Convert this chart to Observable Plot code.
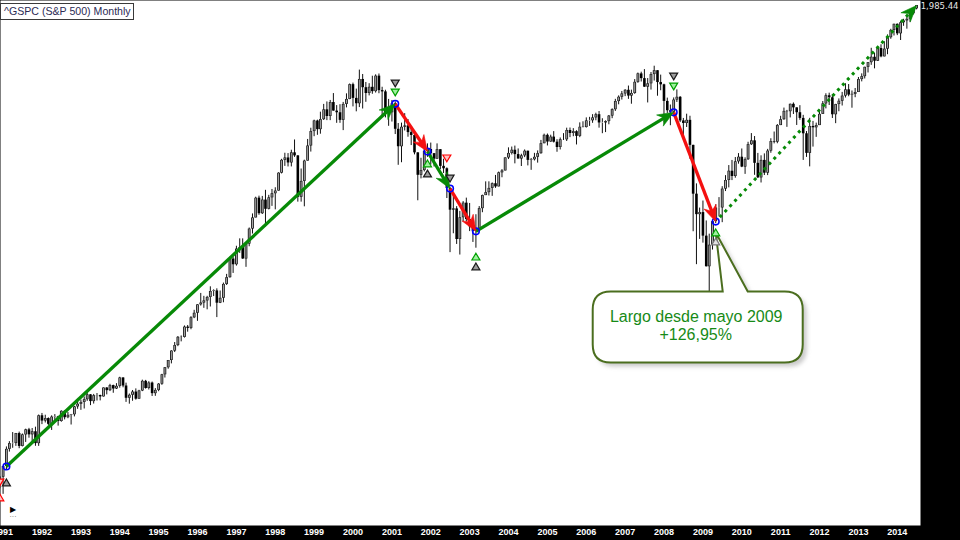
<!DOCTYPE html>
<html><head><meta charset="utf-8">
<script src="https://cdn.jsdelivr.net/npm/d3@7"></script>
<script src="https://cdn.jsdelivr.net/npm/@observablehq/plot@0.6"></script>
<style>
html,body{margin:0;padding:0;background:#000;}
#wrap{position:relative;width:960px;height:540px;overflow:hidden;}
#title{position:absolute;left:0;top:3px;width:129px;height:15px;border:1.5px solid #3a3a3a;background:#fff;
 font:10.6px 'Liberation Sans',Arial,sans-serif;color:#2b2b55;line-height:15px;padding-left:3px;white-space:nowrap;}
</style></head><body><div id="wrap"></div>
<script>
// ---- Monthly OHLC, Dec 1990 .. Jul 2014 ----
const opens = [322.2,
330.2,343.9,367.1,375.2,375.3,389.8,371.2,387.8,395.4,387.9,392.5,375.2,
417.1,408.8,412.7,403.7,415.0,415.4,408.1,424.2,414.0,417.8,418.7,431.4,
435.7,438.8,443.4,451.7,440.2,450.2,450.5,448.1,463.6,458.9,467.8,461.8,
466.5,481.6,467.1,445.8,450.9,456.5,444.3,458.3,475.5,462.7,472.4,453.7,
459.3,470.4,487.4,500.7,514.7,533.4,544.8,562.1,561.9,584.4,581.5,605.4,
615.9,636.0,640.4,645.5,654.2,669.1,670.6,640.0,652.0,687.3,705.3,757.0,
740.7,786.2,790.8,757.1,801.3,848.3,885.1,954.3,899.5,947.3,914.6,955.4,
970.4,980.3,1049.3,1101.8,1111.8,1090.8,1133.8,1120.7,957.3,1017.0,1098.7,1163.6,
1229.2,1279.6,1238.3,1286.4,1335.2,1301.8,1372.7,1328.7,1320.4,1282.7,1362.9,1388.9,
1469.3,1394.5,1366.4,1498.6,1452.4,1420.6,1454.6,1430.8,1517.7,1436.5,1429.4,1315.0,
1320.3,1366.0,1239.9,1160.3,1249.5,1255.8,1224.4,1211.2,1133.6,1040.9,1059.8,1139.5,
1148.1,1130.2,1106.7,1147.4,1076.9,1067.1,989.8,911.6,916.1,815.3,885.8,936.3,
879.8,855.7,841.2,848.2,916.9,963.6,974.5,990.3,1008.0,996.0,1050.7,1058.2,
1111.9,1131.1,1144.9,1126.2,1107.3,1120.7,1140.8,1101.7,1104.2,1114.6,1130.2,1173.8,
1211.9,1181.3,1203.6,1180.6,1156.9,1191.5,1191.3,1234.2,1220.3,1228.8,1207.0,1249.5,
1248.3,1280.1,1280.7,1294.9,1310.6,1270.1,1270.2,1276.7,1303.8,1335.9,1377.9,1400.6,
1418.3,1438.2,1406.8,1420.9,1482.4,1530.6,1503.4,1455.3,1474.0,1526.8,1549.4,1481.1,
1468.4,1378.6,1330.6,1322.7,1385.6,1400.4,1280.0,1267.4,1282.8,1166.4,968.8,896.2,
903.3,825.9,735.1,797.9,872.8,919.1,919.3,987.5,1020.6,1057.1,1036.2,1095.6,
1115.1,1073.9,1104.5,1169.4,1186.7,1089.4,1030.7,1101.6,1049.3,1141.2,1183.3,1180.6,
1257.6,1286.1,1327.2,1325.8,1363.6,1345.2,1320.6,1292.3,1218.9,1131.4,1253.3,1247.0,
1257.6,1312.4,1365.7,1408.5,1397.9,1310.3,1362.2,1379.3,1406.6,1440.7,1412.2,1416.2,
1426.2,1498.1,1514.7,1569.2,1597.6,1630.7,1606.3,1685.7,1633.0,1681.6,1756.5,1805.8,
1848.4,1782.6,1859.5,1872.3,1884.0,1923.6,1960.2];
const highs = [330.9,
344.0,370.5,378.0,391.3,390.0,392.0,389.2,396.4,397.6,397.4,399.4,418.3,
420.8,418.0,413.8,417.0,419.0,416.2,425.1,425.1,422.4,419.2,432.3,441.3,
442.8,448.1,456.7,452.0,452.4,453.9,451.1,463.6,464.2,470.1,468.6,471.3,
482.9,482.1,472.2,453.1,459.2,462.0,459.5,477.6,477.2,474.8,474.2,462.5,
471.4,488.3,501.0,514.7,534.2,551.1,563.8,565.0,587.0,588.0,608.0,622.9,
636.2,664.2,656.9,657.0,681.1,673.3,675.9,670.4,690.9,714.1,762.1,761.8,
794.7,817.4,817.4,805.6,851.9,898.7,957.7,961.6,960.6,983.1,964.5,986.3,
992.7,1051.0,1106.1,1132.0,1130.5,1145.0,1190.6,1121.5,1066.1,1102.5,1192.9,1244.9,
1283.6,1283.6,1323.2,1363.0,1375.9,1383.6,1420.3,1356.9,1361.6,1373.3,1418.8,1473.1,
1478.0,1444.6,1552.9,1527.2,1481.5,1474.6,1517.3,1525.2,1530.1,1454.8,1438.5,1389.1,
1383.4,1376.4,1267.4,1269.3,1315.9,1286.6,1239.8,1226.3,1134.0,1110.6,1163.4,1173.0,
1176.6,1130.2,1173.0,1147.8,1106.6,1070.7,994.5,965.0,924.0,907.4,941.8,954.3,
935.1,864.6,895.9,924.2,965.4,1015.3,1015.4,1011.0,1040.3,1053.8,1063.7,1112.6,
1155.4,1158.9,1163.2,1150.6,1127.7,1146.3,1140.8,1109.7,1131.5,1142.1,1188.5,1217.3,
1217.8,1212.4,1229.1,1191.9,1199.6,1219.6,1245.2,1245.9,1243.1,1233.3,1270.6,1275.8,
1294.9,1297.6,1310.9,1318.2,1326.7,1290.7,1280.4,1306.7,1340.3,1389.5,1407.9,1431.8,
1441.6,1461.6,1438.9,1498.0,1535.6,1540.6,1555.9,1503.9,1538.7,1576.1,1549.4,1523.6,
1471.8,1396.0,1359.7,1397.0,1440.2,1404.1,1292.2,1313.2,1303.0,1167.0,1007.5,918.9,
943.9,875.0,832.1,877.6,930.2,956.2,996.7,1039.5,1080.2,1101.4,1113.7,1130.4,
1150.5,1112.4,1180.2,1219.8,1206.2,1131.2,1120.9,1129.2,1148.7,1196.1,1227.1,1262.6,
1302.7,1344.1,1332.3,1364.6,1370.6,1345.2,1356.5,1307.4,1229.3,1292.7,1277.6,1269.4,
1333.5,1378.0,1419.2,1422.4,1415.3,1363.5,1391.7,1426.7,1474.5,1470.0,1434.3,1448.0,
1509.9,1530.9,1570.3,1597.6,1687.2,1654.2,1698.8,1709.7,1729.9,1775.2,1813.6,1849.4,
1850.8,1867.9,1884.0,1897.3,1924.0,1968.2,1985.6];
const lows = [316.0,
309.4,340.0,363.3,368.6,371.3,368.0,370.5,376.9,383.0,377.9,371.4,371.3,
403.3,405.8,401.6,394.5,407.4,401.0,407.0,410.6,412.5,402.7,415.3,427.5,
425.8,428.0,440.6,433.5,436.1,441.2,441.4,447.9,451.6,457.3,454.4,460.9,
463.3,463.9,438.9,435.9,440.8,442.6,444.3,457.2,461.6,460.1,448.9,449.1,
457.1,468.3,481.5,497.9,508.1,530.5,542.5,552.5,560.5,573.2,578.5,603.5,
597.3,633.0,627.6,624.1,630.8,656.4,605.9,639.0,641.0,684.6,703.8,716.7,
737.0,773.4,756.1,733.5,793.2,832.5,885.1,894.0,896.7,855.3,912.5,924.9,
912.8,980.3,1046.3,1076.7,1074.4,1074.6,1114.3,939.9,939.9,923.3,1098.7,1137.0,
1205.5,1211.9,1217.0,1282.0,1281.4,1281.4,1328.3,1268.4,1268.4,1233.7,1345.1,1387.4,
1350.1,1325.1,1346.6,1339.4,1373.9,1407.8,1416.5,1423.1,1419.4,1305.8,1294.9,1254.1,
1274.6,1215.4,1081.2,1091.9,1232.0,1203.0,1165.5,1124.9,944.8,1026.8,1054.3,1114.5,
1081.7,1074.4,1106.7,1063.5,1048.0,952.9,775.7,833.4,800.2,768.6,872.0,872.0,
840.3,806.3,788.9,847.9,902.8,963.6,962.1,960.8,990.4,996.0,1031.2,1058.2,
1105.1,1124.4,1087.2,1107.2,1076.3,1113.3,1078.8,1060.7,1099.2,1090.2,1127.6,1173.4,
1163.8,1180.1,1176.9,1136.2,1146.2,1188.3,1183.6,1201.1,1205.4,1168.2,1201.1,1246.6,
1245.7,1253.6,1268.4,1280.7,1245.3,1219.3,1224.5,1261.3,1290.9,1327.1,1360.9,1385.9,
1403.9,1389.4,1363.9,1416.4,1476.7,1484.2,1454.3,1370.6,1439.3,1489.6,1406.1,1435.7,
1270.1,1316.8,1256.9,1312.0,1373.1,1272.0,1200.4,1248.5,1106.4,839.8,741.0,815.7,
804.2,734.5,666.8,783.3,866.1,888.9,869.3,978.5,992.3,1020.2,1029.4,1085.9,
1071.6,1044.5,1101.4,1166.0,1040.8,1028.3,1010.9,1040.0,1039.7,1131.9,1173.0,1173.6,
1257.6,1282.9,1249.1,1294.7,1311.8,1258.1,1282.9,1101.5,1114.2,1074.8,1158.7,1202.4,
1257.6,1312.4,1340.0,1357.4,1291.9,1266.7,1325.4,1354.7,1396.6,1403.3,1343.4,1398.1,
1426.2,1485.0,1501.5,1536.0,1581.3,1560.3,1604.6,1627.5,1633.0,1646.5,1746.2,1767.9,
1770.5,1737.9,1834.4,1814.4,1859.8,1915.0,1952.9];
const closes = [330.2,
343.9,367.1,375.2,375.3,389.8,371.2,387.8,395.4,387.9,392.5,375.2,417.1,
408.8,412.7,403.7,415.0,415.4,408.1,424.2,414.0,417.8,418.7,431.4,435.7,
438.8,443.4,451.7,440.2,450.2,450.5,448.1,463.6,458.9,467.8,461.8,466.5,
481.6,467.1,445.8,450.9,456.5,444.3,458.3,475.5,462.7,472.4,453.7,459.3,
470.4,487.4,500.7,514.7,533.4,544.8,562.1,561.9,584.4,581.5,605.4,615.9,
636.0,640.4,645.5,654.2,669.1,670.6,640.0,652.0,687.3,705.3,757.0,740.7,
786.2,790.8,757.1,801.3,848.3,885.1,954.3,899.5,947.3,914.6,955.4,970.4,
980.3,1049.3,1101.8,1111.8,1090.8,1133.8,1120.7,957.3,1017.0,1098.7,1163.6,1229.2,
1279.6,1238.3,1286.4,1335.2,1301.8,1372.7,1328.7,1320.4,1282.7,1362.9,1388.9,1469.3,
1394.5,1366.4,1498.6,1452.4,1420.6,1454.6,1430.8,1517.7,1436.5,1429.4,1315.0,1320.3,
1366.0,1239.9,1160.3,1249.5,1255.8,1224.4,1211.2,1133.6,1040.9,1059.8,1139.5,1148.1,
1130.2,1106.7,1147.4,1076.9,1067.1,989.8,911.6,916.1,815.3,885.8,936.3,879.8,
855.7,841.2,848.2,916.9,963.6,974.5,990.3,1008.0,996.0,1050.7,1058.2,1111.9,
1131.1,1144.9,1126.2,1107.3,1120.7,1140.8,1101.7,1104.2,1114.6,1130.2,1173.8,1211.9,
1181.3,1203.6,1180.6,1156.9,1191.5,1191.3,1234.2,1220.3,1228.8,1207.0,1249.5,1248.3,
1280.1,1280.7,1294.9,1310.6,1270.1,1270.2,1276.7,1303.8,1335.9,1377.9,1400.6,1418.3,
1438.2,1406.8,1420.9,1482.4,1530.6,1503.4,1455.3,1474.0,1526.8,1549.4,1481.1,1468.4,
1378.6,1330.6,1322.7,1385.6,1400.4,1280.0,1267.4,1282.8,1166.4,968.8,896.2,903.3,
825.9,735.1,797.9,872.8,919.1,919.3,987.5,1020.6,1057.1,1036.2,1095.6,1115.1,
1073.9,1104.5,1169.4,1186.7,1089.4,1030.7,1101.6,1049.3,1141.2,1183.3,1180.6,1257.6,
1286.1,1327.2,1325.8,1363.6,1345.2,1320.6,1292.3,1218.9,1131.4,1253.3,1247.0,1257.6,
1312.4,1365.7,1408.5,1397.9,1310.3,1362.2,1379.3,1406.6,1440.7,1412.2,1416.2,1426.2,
1498.1,1514.7,1569.2,1597.6,1630.7,1606.3,1685.7,1633.0,1681.6,1756.5,1805.8,1848.4,
1782.6,1859.5,1872.3,1884.0,1923.6,1960.2,1985.4];
const firstMonth = "1990-12";

// ---- Trade legs (entry/exit at bar opens) ----
const tradeDates  = ["1991-02","2001-02","2001-12","2002-07","2003-03","2008-04","2009-05","2014-07"];
const tradePrices = [343.9, 1366.0, 1139.5, 989.8, 841.2, 1322.7, 872.8, 1985.4];
const legSides    = ["long","short","long","short","long","short","long"];
const legOpenTrade= [false,false,false,false,false,false,true];

// ---- Signal triangles ----
const markerDates  = ["1990-12","1990-12","1991-02","2001-02","2001-02","2001-12","2001-12","2002-06","2002-07","2003-03","2003-03","2008-04","2008-04","2009-05","2009-05"];
const markerPrices = [323.7, 305.8, 323.7, 1476, 1426, 1089, 1048, 1110, 1028, 764, 736, 1516, 1459, 837.7, 809];
const markerKinds  = ["red-down","red-up","dark-up","dark-down","green-down","green-up","dark-up","red-down","dark-down","green-up","dark-up","dark-down","green-down","green-up","grey-up"];

// ---- Callout ----
const calloutDate = "2009-05";
const calloutPrice = 837.7;
const calloutLines = ["Largo desde mayo 2009", "+126,95%"];

const yearTicks = [1991,1992,1993,1994,1995,1996,1997,1998,1999,2000,2001,2002,2003,2004,2005,2006,2007,2008,2009,2010,2011,2012,2013,2014];
const lastLabel = "1,985.44";
const titleText = "^GSPC (S&P 500) Monthly";

// ------------------------------------------------------------
const parseMonth = d3.utcParse("%Y-%m");
const d0 = parseMonth(firstMonth);
const candles = closes.map((c, i) => ({
  date: new Date(Date.UTC(d0.getUTCFullYear(), d0.getUTCMonth() + i, 1)),
  open: opens[i], high: highs[i], low: lows[i], close: c
}));
const upC = candles.filter(d => d.close >= d.open);
const dnC = candles.filter(d => d.close < d.open);

const W = 960, H = 540, MR = 40, MB = 15;
const xDomain = [new Date(Date.UTC(1990, 11, 7, 12)), new Date(Date.UTC(2014, 7, 7))];
const yDomain = [274.8, 2023.5];
const sx = d3.scaleUtc(xDomain, [0, W - MR]);
const sy = d3.scaleLog(yDomain, [H - MB, 0]);

const GREEN = "#078a07", RED = "#f41010", BLUE = "#0000ff";
const legs = legSides.map((s, i) => ({
  x1: parseMonth(tradeDates[i]), y1: tradePrices[i],
  x2: parseMonth(tradeDates[i + 1]), y2: tradePrices[i + 1],
  color: s === "long" ? GREEN : RED, open: legOpenTrade[i]
}));
const circles = tradeDates.slice(0, -1).map((d, i) => ({date: parseMonth(d), price: tradePrices[i]}));
const markers = markerDates.map((d, i) => ({date: parseMonth(d), price: markerPrices[i], kind: markerKinds[i]}));
const callout = {date: parseMonth(calloutDate), price: calloutPrice};

function headSymbol(angle) {
  const c = Math.cos(angle), s = Math.sin(angle);
  const pts = [[0, 0], [-16, -6.5], [-11, 0], [-16, 6.5]];
  return {draw(ctx) {
    pts.forEach(([px, py], i) => {
      const X = px * c - py * s, Y = px * s + py * c;
      i ? ctx.lineTo(X, Y) : ctx.moveTo(X, Y);
    });
    ctx.closePath();
  }};
}
function triSymbol(up) {
  return {draw(ctx) {
    const w = 4, h = 3.4;
    if (up) { ctx.moveTo(0, -h); ctx.lineTo(w, h); ctx.lineTo(-w, h); }
    else { ctx.moveTo(0, h); ctx.lineTo(w, -h); ctx.lineTo(-w, -h); }
    ctx.closePath();
  }};
}
const bubbleSymbol = {draw(ctx) {
  const L = -123, R = 87, T = 59, B = 130, r = 18;
  ctx.moveTo(L + r, T); ctx.lineTo(7, T); ctx.lineTo(0, 0); ctx.lineTo(32, T); ctx.lineTo(R - r, T);
  ctx.quadraticCurveTo(R, T, R, T + r); ctx.lineTo(R, B - r);
  ctx.quadraticCurveTo(R, B, R - r, B); ctx.lineTo(L + r, B);
  ctx.quadraticCurveTo(L, B, L, B - r); ctx.lineTo(L, T + r);
  ctx.quadraticCurveTo(L, T, L + r, T); ctx.closePath();
}};
const markerStyles = {
  red:   {stroke: "#ff0000", fill: "#ffc4c4"},
  green: {stroke: "#00a000", fill: "#9ff09f"},
  dark:  {stroke: "#1a1a1a", fill: "#9c9c9c"},
  grey:  {stroke: "#777777", fill: "#e2e2e2"}
};

const marks = [
  Plot.frame({fill: "white"}),
  // candles
  Plot.ruleX(candles, {x: "date", y1: "low", y2: "high", stroke: "#111", strokeWidth: 1}),
  Plot.ruleX(dnC, {x: "date", y1: "open", y2: "close", stroke: "#000", strokeWidth: 2.6}),
  Plot.ruleX(upC, {x: "date", y1: "close", y2: "open", stroke: "#1a1a1a", strokeWidth: 2.8}),
  Plot.ruleX(upC, {x: "date", y1: "close", y2: "open", stroke: "#a9a9a9", strokeWidth: 1, insetTop: 0.6, insetBottom: 0.6}),
];
// trade shafts
for (const col of [GREEN, RED]) {
  marks.push(Plot.arrow(legs.filter(d => d.color === col && !d.open), {
    x1: "x1", y1: "y1", x2: "x2", y2: "y2", stroke: col, strokeWidth: 3.3,
    headLength: 0, insetEnd: 9, strokeLinecap: "butt"
  }));
}
marks.push(Plot.arrow(legs.filter(d => d.open), {
  x1: "x1", y1: "y1", x2: "x2", y2: "y2", stroke: GREEN, strokeWidth: 3,
  headLength: 0, insetEnd: 9, insetStart: 6, strokeLinecap: "butt", strokeDasharray: "3,4.2"
}));
// callout bubble
marks.push(
  Plot.dot([callout], {x: "date", y: "price", symbol: bubbleSymbol, fill: "#8a8a8a", fillOpacity: 0.45, stroke: "none", dx: 4, dy: 4, imageFilter: "blur(2px)"}),
  Plot.dot([callout], {x: "date", y: "price", symbol: bubbleSymbol, fill: "white", stroke: "#4b6e1f", strokeWidth: 2}),
  Plot.text([callout], {x: "date", y: "price", text: () => calloutLines[0], dx: -19.5, dy: 84.5, fontSize: 16, fill: "#178a17", fontWeight: "normal", fontFamily: "'Liberation Sans', Arial, sans-serif"}),
  Plot.text([callout], {x: "date", y: "price", text: () => calloutLines[1], dx: -20, dy: 102, fontSize: 16, fill: "#178a17", fontWeight: "normal", fontFamily: "'Liberation Sans', Arial, sans-serif"})
);
// entry/exit circles
marks.push(Plot.dot(circles, {x: "date", y: "price", r: 3.3, stroke: BLUE, strokeWidth: 1.6, fill: "none"}));
// arrow heads
for (const leg of legs) {
  const ang = Math.atan2(sy(leg.y2) - sy(leg.y1), sx(leg.x2) - sx(leg.x1));
  marks.push(Plot.dot([leg], {x: "x2", y: "y2", symbol: headSymbol(ang), fill: leg.color, stroke: leg.color, strokeWidth: 0.6, r: 6}));
}
// signal triangles
for (const colour of Object.keys(markerStyles)) {
  for (const dir of ["up", "down"]) {
    const sub = markers.filter(d => d.kind === colour + "-" + dir);
    if (sub.length) marks.push(Plot.dot(sub, {x: "date", y: "price", symbol: triSymbol(dir === "up"), r: 4,
      fill: markerStyles[colour].fill, stroke: markerStyles[colour].stroke, strokeWidth: 1.2}));
  }
}
// last price label in right margin
marks.push(Plot.text([candles[candles.length - 1]], {x: "date", y: "close", text: () => lastLabel, dx: 23, dy: 0.5,
  fill: "#e6e6e6", fontSize: 8.5, fontWeight: "normal", fontFamily: "'DejaVu Sans', sans-serif"}));
// small scroll button
marks.push(Plot.text(["\u25B6"], {frameAnchor: "bottom-left", dx: 9, dy: -14, fontSize: 8, fill: "#000", fontWeight: "normal"}));
marks.push(Plot.text(["\u00B7\u00B7\u00B7"], {frameAnchor: "bottom-left", dx: 9, dy: -7, fontSize: 7, fill: "#555", fontWeight: "normal"}));

const chart = Plot.plot({
  width: W, height: H,
  marginLeft: 0, marginRight: MR, marginTop: 0, marginBottom: MB,
  x: {type: "utc", domain: xDomain, ticks: yearTicks.map(y => new Date(Date.UTC(y, 0, 1))),
      tickFormat: d3.utcFormat("%Y"), tickSize: 0, tickPadding: 3, label: null},
  y: {type: "log", domain: yDomain, axis: null},
  style: {background: "black", color: "white", fontFamily: "'Liberation Sans', Arial, sans-serif", fontSize: "9px", fontWeight: "bold"},
  marks
});
const wrap = document.getElementById("wrap");
wrap.appendChild(chart);
const t = document.createElement("div");
t.id = "title"; t.textContent = titleText;
wrap.appendChild(t);
</script></body></html>
